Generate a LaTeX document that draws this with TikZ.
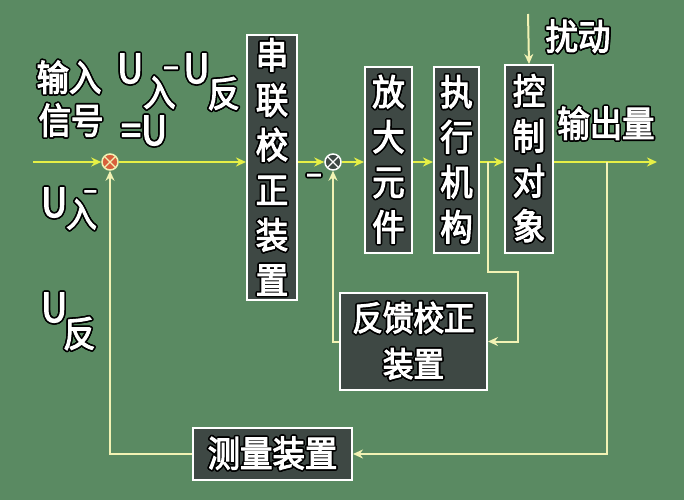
\documentclass[tikz,border=0pt]{standalone}
\usepackage{fontspec}
\usepackage[copies]{contour}
\contourlength{1.6pt}
\contournumber{16}
\newfontfamily\cjk[FakeStretch=0.9,FakeBold=3]{Noto Sans CJK SC}
\usetikzlibrary{arrows.meta}
\definecolor{bg}{HTML}{5A8A62}
\definecolor{fwd}{HTML}{E6F046}
\definecolor{fbline}{HTML}{F2F2B4}
\definecolor{boxfill}{HTML}{3E4844}
\definecolor{sumred}{HTML}{D8603C}
\newcommand\oc[1]{\contour{black}{#1}}
\newcommand\subf{\fontsize{36}{36}\selectfont}
\begin{document}
\begin{tikzpicture}[x=1pt,y=-1pt,
  blk/.style={draw=white,line width=2pt,fill=boxfill,text=white,inner sep=0pt,align=center,
    font=\cjk\fontsize{36}{45}\selectfont},
  lbl/.style={text=white,inner sep=0pt,font=\cjk\fontsize{36}{40}\selectfont},
  latin/.style={text=white,inner sep=0pt,font=\cjk\fontsize{40}{40}\selectfont},
  sumj/.style={circle,draw=fbline,line width=1.5pt,minimum size=16pt,inner sep=0pt,
    path picture={\draw[line width=1.2pt] (path picture bounding box.north west)--(path picture bounding box.south east)
      (path picture bounding box.north east)--(path picture bounding box.south west);}},
  fw/.style={draw=fwd,line width=2pt,-{Stealth[length=10pt,width=9pt]}},
  fb/.style={draw=fbline,line width=2pt,-{Stealth[length=10pt,width=9pt]}}]
\useasboundingbox[fill=bg] (0,0) rectangle (684,500);

% summing junctions
\node[sumj,fill=sumred,draw=fbline] (s1) at (110,162) {};
\node[sumj,fill=boxfill,draw=white] (s2) at (333,162) {};

% blocks
\node[blk,minimum width=50pt,minimum height=265pt] (ser) at (272,167.5) {\oc{串}\\\oc{联}\\\oc{校}\\\oc{正}\\\oc{装}\\\oc{置}};
\node[blk,minimum width=47pt,minimum height=186pt] (amp) at (388.5,160) {\oc{放}\\\oc{大}\\\oc{元}\\\oc{件}};
\node[blk,minimum width=45pt,minimum height=186pt] (act) at (456.5,160) {\oc{执}\\\oc{行}\\\oc{机}\\\oc{构}};
\node[blk,minimum width=48pt,minimum height=188pt] (plant) at (529,159) {\oc{控}\\\oc{制}\\\oc{对}\\\oc{象}};
\node[blk,minimum width=147pt,minimum height=97pt,font=\cjk\fontsize{34}{46}\selectfont] (fbc) at (413.5,341.5) {\oc{反馈校正}\\\oc{装置}};
\node[blk,minimum width=159pt,minimum height=52pt] (meas) at (272.5,454) {\oc{测量装置}};

% coordinates
\coordinate (in) at (33,162);
\coordinate (out) at (657,162);
\coordinate (dist) at (528,14);
\coordinate (tap1) at (607,162);
\coordinate (tap2) at (488,162);
\coordinate (c1) at (518,272);

% forward path
\draw[fw] (in) -- (s1);
\draw[fw] (s1) -- (ser.west |- s1);
\draw[fw] (ser.east |- s2) -- (s2);
\draw[fw] (s2) -- (amp.west |- s2);
\draw[fw] (amp.east |- s2) -- (act.west |- s2);
\draw[fw] (act.east |- s2) -- (plant.west |- s2);
\draw[fw] (plant.east |- s2) -- (out);
\draw[fb] (dist) -- (plant.north);

% main feedback
\draw[fb] (tap1) |- (meas.east);
\draw[fb] (meas.west) -| (s1.south);

% local feedback
\draw[fb] (tap2) |- (c1) |- (fbc.east);
\draw[fb] (fbc.west) -| (s2.south);

% labels
\node[lbl] (l1) at (69,78) {\oc{输入}};
\node[lbl] (l2) at (71,121) {\oc{信号}};
\node[latin,anchor=base west] (l3) at (117,83) {\oc{U\raisebox{-23pt}{\subf 入}\kern-12pt\raisebox{4pt}{\fontsize{30}{30}\selectfont −}\kern5pt U\kern-2pt\raisebox{-24pt}{\subf 反}}};
\node[latin,anchor=base west] (l4) at (121,145) {\oc{=U}};
\node[latin,anchor=base west] (l5) at (41,217) {\oc{U\kern-1pt\raisebox{-10pt}{\fontsize{34}{34}\selectfont 入}\kern-13pt\raisebox{16pt}{\fontsize{26}{26}\selectfont −}}};
\node[latin,anchor=base west] (l6) at (41,322) {\oc{U\kern-4pt\raisebox{-25pt}{\subf 反}}};
\node[lbl] (l7) at (578,37) {\oc{扰动}};
\node[lbl] (l8) at (606,124) {\oc{输出量}};
\node[lbl,font=\cjk\fontsize{30}{30}\selectfont] (l9) at (314,181) {\oc{−}};
\end{tikzpicture}
\end{document}
